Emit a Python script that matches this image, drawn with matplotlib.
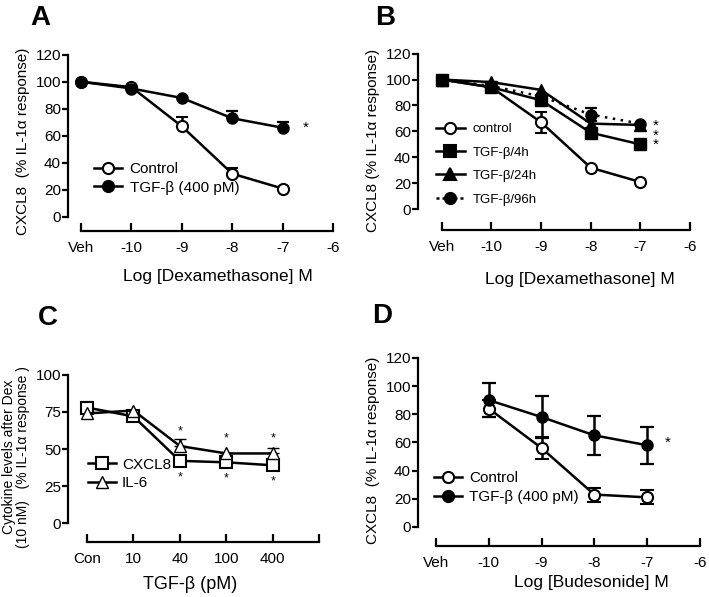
import matplotlib
matplotlib.use('Agg')
import matplotlib.pyplot as plt
from matplotlib.lines import Line2D
import numpy as np

plt.rcParams['font.family'] = ['Liberation Sans', 'DejaVu Sans']

# ---- data ----
dex_x = [-11, -10, -9, -8, -7]
dex_ticks = ['Veh', '-10', '-9', '-8', '-7', '-6']

a_ctrl = [100, 96, 67, 32, 21]
a_ctrl_err = [0, 0, 7, 4, 0]
a_tgf = [100, 95, 88, 73, 66]
a_tgf_err = [0, 0, 0, 5, 4]

b_ctrl = [100, 94, 67, 32, 21]
b_ctrl_err = [0, 0, 8, 0, 0]
b_4h = [100, 94, 84, 59, 50]
b_24h = [100, 98, 92, 66, 65]
b_96h = [100, 95, 87, 73, 66]
b_96h_err = [0, 0, 0, 5, 0]

c_x = [0, 1, 2, 3, 4]
c_ticks = ['Con', '10', '40', '100', '400', '']
c_cxcl8 = [78, 72, 42, 41, 39]
c_cxcl8_err = [4, 0, 0, 0, 0]
c_il6 = [74, 76, 52, 47, 47]
c_il6_err = [0, 0, 5, 0, 4]
c_star_up = [62, 57, 57]
c_star_dn = [31, 30, 28]

d_x = [-10, -9, -8, -7]
d_ctrl = [84, 56, 23, 21]
d_ctrl_err = [6, 8, 5, 5]
d_tgf = [90, 78, 65, 58]
d_tgf_err = [12, 15, 14, 13]

W, H = 709, 597
fig = plt.figure(figsize=(W / 100, H / 100), dpi=100)


def make_ax(left, right, top, bottom):
    return fig.add_axes([left / W, 1 - bottom / H, (right - left) / W, (bottom - top) / H])


def style(ax, xlim, ylim, ybounds, xbounds, yticks, xticks, xlabels):
    ax.set_xlim(*xlim)
    ax.set_ylim(*ylim)
    for s in ['top', 'right']:
        ax.spines[s].set_visible(False)
    ax.spines['left'].set_bounds(*ybounds)
    ax.spines['bottom'].set_bounds(*xbounds)
    ax.spines['left'].set_linewidth(1.6)
    ax.spines['bottom'].set_linewidth(1.6)
    ax.set_yticks(yticks)
    ax.set_xticks(xticks)
    ax.set_xticklabels(xlabels)
    ax.tick_params(axis='y', direction='out', length=4, width=1.6, labelsize=11, pad=1)
    ax.tick_params(axis='x', direction='in', length=6, width=1.6, labelsize=11, pad=7)


def handle(marker, mfc='black', ls='-', ms=8, mew=1.5):
    return Line2D([], [], color='black', lw=1.8, ls=ls, marker=marker, mfc=mfc,
                  mec='black', ms=ms, mew=mew)


lw = 1.8
ms = 8

# ---- A ----
ax = make_ax(68, 336, 52, 231)
style(ax, (-11.26, -5.94), (-10.4, 122), (0, 120), (-11, -6),
      range(0, 121, 20), range(-11, -5), dex_ticks)
ax.errorbar(dex_x, a_ctrl, yerr=[np.zeros(5), a_ctrl_err], color='black', lw=lw,
            marker='o', mfc='white', mec='black', mew=1.5, ms=ms, capsize=4, capthick=1.6)
ax.errorbar(dex_x, a_tgf, yerr=[np.zeros(5), a_tgf_err], color='black', lw=lw,
            marker='o', mfc='black', ms=ms, capsize=4, capthick=1.6)
ax.text(-6.55, 66, '*', fontsize=11, ha='center', va='center')
ax.set_ylabel('CXCL8  (% IL-1α response)', fontsize=11, labelpad=4)
ax.set_xlabel('Log [Dexamethasone] M', fontsize=12.5)
ax.xaxis.set_label_coords(0.56, -0.21)
ax.legend([handle('o', 'white'), handle('o')], ['Control', 'TGF-β (400 pM)'],
          loc='lower left', bbox_to_anchor=(0.07, 0.16), frameon=False, fontsize=11,
          handlelength=1.8, handletextpad=0.5, borderpad=0, labelspacing=0.3)
fig.text(30 / W, 1 - 18 / H, 'A', fontsize=20, fontweight='bold', va='center')

# ---- B ----
ax = make_ax(418, 693, 51, 230)
style(ax, (-11.48, -5.94), (-16, 122), (0, 120), (-11, -6),
      range(0, 121, 20), range(-11, -5), dex_ticks)
ax.errorbar(dex_x, b_ctrl, yerr=b_ctrl_err, color='black', lw=lw,
            marker='o', mfc='white', mec='black', mew=1.5, ms=ms, capsize=4, capthick=1.6)
ax.plot(dex_x, b_4h, color='black', lw=lw, marker='s', ms=ms)
ax.plot(dex_x, b_24h, color='black', lw=lw, marker='^', ms=ms)
ax.errorbar(dex_x, b_96h, yerr=b_96h_err, color='black', lw=lw, ls=(0, (1, 2.2)),
            marker='o', ms=ms, capsize=4, capthick=1.6)
ax.text(-6.7, 57, '*\n*\n*', fontsize=11, ha='center', va='center', linespacing=0.62)
ax.set_ylabel('CXCL8 (% IL-1α response)', fontsize=11, labelpad=4)
ax.set_xlabel('Log [Dexamethasone] M', fontsize=12.5)
ax.xaxis.set_label_coords(0.588, -0.235)
ax.legend([handle('o', 'white'), handle('s'), handle('^'), handle('o', ls=(0, (1.2, 1.2)))],
          ['control', 'TGF-β/4h', 'TGF-β/24h', 'TGF-β/96h'],
          loc='lower left', bbox_to_anchor=(0.04, 0.1), frameon=False, fontsize=9.5,
          handlelength=2.2, handletextpad=0.6, borderpad=0, labelspacing=0.85)
fig.text(375 / W, 1 - 18 / H, 'B', fontsize=20, fontweight='bold', va='center')

# ---- C ----
ax = make_ax(68, 322, 372, 542)
style(ax, (-0.41, 5.06), (-12.8, 102), (0, 100), (0, 5),
      range(0, 101, 25), range(0, 6), c_ticks)
ax.errorbar(c_x, c_cxcl8, yerr=[np.zeros(5), c_cxcl8_err], color='black', lw=lw,
            marker='s', mfc='white', mec='black', mew=1.5, ms=ms + 1, capsize=4, capthick=1.6)
ax.errorbar(c_x, c_il6, yerr=[np.zeros(5), c_il6_err], color='black', lw=lw,
            marker='^', mfc='white', mec='black', mew=1.0, ms=ms, capsize=4, capthick=1.6)
for xx, yy in zip(c_x[2:], c_star_up):
    ax.text(xx, yy, '*', fontsize=9, ha='center', va='center')
for xx, yy in zip(c_x[2:], c_star_dn):
    ax.text(xx, yy, '*', fontsize=9, ha='center', va='center')
ax.set_ylabel('Cytokine levels after Dex\n(10 nM)   (% IL-1α response )', fontsize=10,
              labelpad=4, linespacing=1.0)
ax.set_xlabel('TGF-β (pM)', fontsize=13)
ax.xaxis.set_label_coords(0.48, -0.2)
ax.legend([handle('s', 'white', ms=9), handle('^', 'white', mew=1.0)], ['CXCL8', 'IL-6'],
          loc='lower left', bbox_to_anchor=(0.05, 0.26), frameon=False, fontsize=11,
          handlelength=1.8, handletextpad=0.4, borderpad=0, labelspacing=0.3)
fig.text(38 / W, 1 - 318 / H, 'C', fontsize=20, fontweight='bold', va='center')

# ---- D ----
ax = make_ax(418, 703, 355, 546)
style(ax, (-11.34, -5.94), (-13.5, 122), (0, 120), (-11, -6),
      range(0, 121, 20), range(-11, -5), dex_ticks)
ax.errorbar(d_x, d_ctrl, yerr=d_ctrl_err, color='black', lw=lw,
            marker='o', mfc='white', mec='black', mew=1.5, ms=ms, capsize=5, capthick=1.6)
ax.errorbar(d_x, d_tgf, yerr=d_tgf_err, color='black', lw=lw,
            marker='o', mfc='black', ms=ms, capsize=5, capthick=1.6)
ax.text(-6.6, 60, '*', fontsize=11, ha='center', va='center')
ax.set_ylabel('CXCL8  (% IL-1α response)', fontsize=11, labelpad=4)
ax.set_xlabel('Log [Budesonide] M', fontsize=12.5)
ax.xaxis.set_label_coords(0.607, -0.15)
ax.legend([handle('o', 'white'), handle('o')], ['Control', 'TGF-β (400 pM)'],
          loc='lower left', bbox_to_anchor=(0.03, 0.18), frameon=False, fontsize=11,
          handlelength=1.8, handletextpad=0.5, borderpad=0, labelspacing=0.3)
fig.text(372 / W, 1 - 316 / H, 'D', fontsize=20, fontweight='bold', va='center')

fig.savefig('out.png', dpi=100, facecolor='white')
